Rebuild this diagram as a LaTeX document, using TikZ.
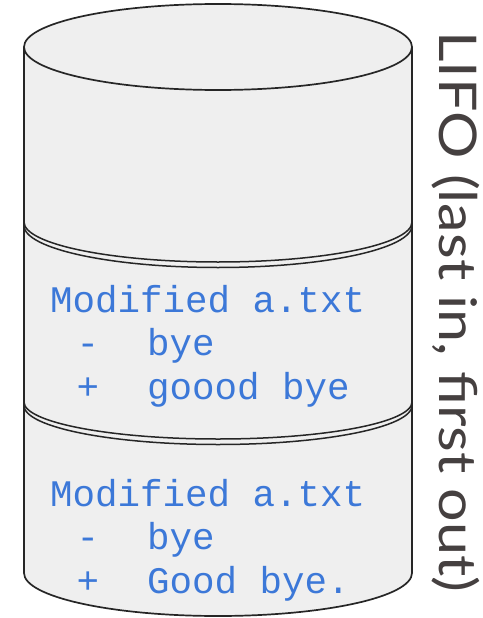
\documentclass[tikz,border=0pt]{standalone}
\usepackage{fontspec}
\newfontfamily\codefont{Liberation Mono}
\newfontfamily\labelfont{Lato}[FakeStretch=1.14]
\definecolor{cylfill}{HTML}{EFEFEF}
\definecolor{codeblue}{HTML}{3C78D8}
\definecolor{labelgray}{HTML}{454040}
\begin{document}
\begin{tikzpicture}[x=1pt,y=-1pt,
  cyl/.style={fill=cylfill,draw=black!85,line width=1.7pt},
  sep/.style={draw=black!85,line width=1.5pt},
  code/.style={anchor=base west,inner sep=0pt,text=codeblue,font=\codefont\fontsize{37.5}{43.5}\selectfont},
  sidelabel/.style={anchor=base west,inner sep=0pt,rotate=-90,text=labelgray,font=\labelfont\fontsize{52}{60}\selectfont}]
\useasboundingbox (0,0) rectangle (482,618);
% body
\path[cyl] (24,47) -- (24,573) arc[start angle=180,end angle=360,x radius=194,y radius=-43] -- (412,47);
\path[cyl] (218,47) ellipse[x radius=194,y radius=43];
% separators
\draw[sep] (24,222) arc[start angle=180,end angle=360,x radius=194,y radius=-40];
\draw[sep] (24,225.5) arc[start angle=180,end angle=360,x radius=194,y radius=-42];
\draw[sep] (24,402) arc[start angle=180,end angle=360,x radius=194,y radius=-37];
\draw[sep] (24,405.5) arc[start angle=180,end angle=360,x radius=194,y radius=-39];
% texts
\node[code] (a1) at (50,312) {Modified a.txt};
\node[code] (a2) at (54,355.5) {\ -\ \kern3pt\ bye};
\node[code] (a3) at (54,399) {\ +\ \kern3pt\ goood bye};
\node[code] (b1) at (50,506) {Modified a.txt};
\node[code] (b2) at (54,549.5) {\ -\ \kern3pt\ bye};
\node[code] (b3) at (54,593) {\ +\ \kern3pt\ Good bye.};
\node[sidelabel] (lifo) at (439,31) {LIFO (last in, first out)};
\end{tikzpicture}
\end{document}
